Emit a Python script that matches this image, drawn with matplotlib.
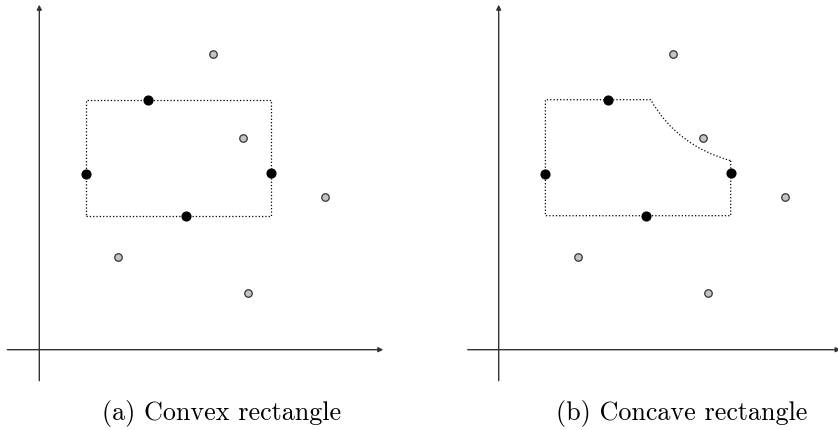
import matplotlib.pyplot as plt
from matplotlib.path import Path
from matplotlib.patches import PathPatch

# ------ data (units: 1 = 10 px, origin at the axes crossing) ------
black_x = [10.9, 4.67, 23.2, 14.7]
black_y = [25.0, 17.6, 17.7, 13.4]
gray_x = [17.4, 20.4, 28.6, 7.9, 20.9]
gray_y = [29.6, 21.2, 15.3, 9.3, 5.7]

rect_x0, rect_x1 = 4.67, 23.2
rect_y0, rect_y1 = 13.4, 25.0

# concave corner: top edge stops at curve_start, curve bends to curve_end
curve_start = (15.2, 25.0)
curve_ctrl = (17.8, 20.4)
curve_end = (23.2, 18.9)

captions = ['(a) Convex rectangle', '(b) Concave rectangle']
# ------------------------------------------------------------------

fig = plt.figure(figsize=(8.38, 4.3), dpi=100)
ax_a = fig.add_axes([0, 0, 0.5, 1])
ax_b = fig.add_axes([0.5, 0, 0.5, 1])

axis_col = '#333333'


def draw_axes(ax, x_tail, x_tip, y_tail, y_tip):
    arrow = dict(arrowstyle='-|>', color=axis_col, lw=1.0, mutation_scale=7,
                 shrinkA=0, shrinkB=0)
    ax.annotate('', xy=(x_tip, 0), xytext=(x_tail, 0), arrowprops=arrow,
                annotation_clip=False)
    ax.annotate('', xy=(0, y_tip), xytext=(0, y_tail), arrowprops=arrow,
                annotation_clip=False)


def draw_points(ax):
    ax.plot(black_x, black_y, 'o', ms=6.3, color='black', zorder=5)
    ax.plot(gray_x, gray_y, 'o', ms=5.4, mfc='#c4c4c4', mec='#333333',
            mew=0.9, zorder=5)


# (a) convex
ax_a.set_xlim(-3.93, 37.97)
ax_a.set_ylim(-8.03, 34.97)
draw_axes(ax_a, -3.2, 34.4, -3.1, 34.5)
ax_a.plot([rect_x0, rect_x1, rect_x1, rect_x0, rect_x0],
          [rect_y0, rect_y0, rect_y1, rect_y1, rect_y0],
          ls=':', lw=0.9, color='black')
draw_points(ax_a)
ax_a.text(18.24, -6.4, captions[0], ha='center', va='center',
          family='cmr10', fontsize=18.8)

# (b) concave
ax_b.set_xlim(-7.97, 33.93)
ax_b.set_ylim(-8.03, 34.97)
draw_axes(ax_b, -3.1, 34.2, -3.1, 34.5)
verts = [(rect_x1, curve_end[1]), (rect_x1, rect_y0), (rect_x0, rect_y0),
         (rect_x0, rect_y1), curve_start, curve_ctrl, curve_end]
codes = [Path.MOVETO, Path.LINETO, Path.LINETO, Path.LINETO, Path.LINETO,
         Path.CURVE3, Path.CURVE3]
ax_b.add_patch(PathPatch(Path(verts, codes), fill=False, ls=':', lw=0.9,
                         edgecolor='black'))
draw_points(ax_b)
ax_b.text(18.33, -6.4, captions[1], ha='center', va='center',
          family='cmr10', fontsize=18.8)

for ax in (ax_a, ax_b):
    ax.axis('off')

plt.savefig('out.png', dpi=100)
